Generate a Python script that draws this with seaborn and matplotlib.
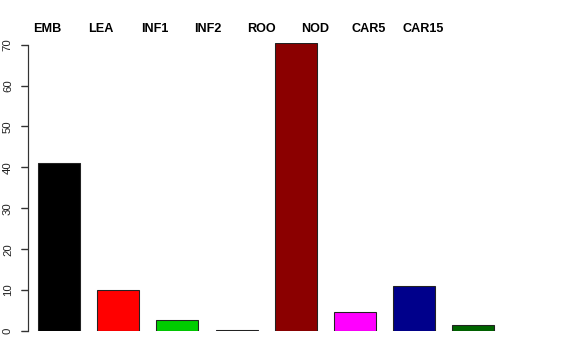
import matplotlib
matplotlib.use("Agg")
import matplotlib.pyplot as plt
import matplotlib.transforms as mtransforms
import seaborn as sns
import pandas as pd

categories = ["EMB", "LEA", "INF1", "INF2", "ROO", "NOD", "CAR5", "CAR15"]
values = [41.0, 10.0, 2.6, 0.3, 70.3, 4.6, 11.1, 1.45]
colors = ["#000000", "#FF0000", "#00CD00", "#0000FF", "#8B0000", "#FF00FF", "#00008B", "#006400"]
yticks = [0, 10, 20, 30, 40, 50, 60, 70]

sns.set_theme(style="ticks")
plt.rcParams["font.family"] = ["Liberation Sans", "DejaVu Sans"]

fig = plt.figure(figsize=(6, 3.75), dpi=96)
ax = fig.add_axes([28 / 576, 29 / 360, 475 / 576, 288.4 / 360])

df = pd.DataFrame({"cat": categories, "val": values})
sns.barplot(data=df, x="cat", y="val", hue="cat", palette=colors, legend=False,
            width=0.71, edgecolor="#222222", linewidth=0.8, saturation=1, ax=ax)

ax.set_xlim(-0.524, 7.5)
ax.set_ylim(0, 70.5)
ax.set_xlabel("")
ax.set_ylabel("")
ax.tick_params(axis="x", bottom=False, labelbottom=False)
ax.set_yticks(yticks)
ax.set_yticklabels([str(t) for t in yticks], rotation=90, va="center", fontsize=8.5)
ax.tick_params(axis="y", length=5.3, width=0.9, color="#333333", pad=6, labelcolor="#222222")
for s in ["top", "right", "bottom"]:
    ax.spines[s].set_visible(False)
ax.spines["left"].set_bounds(0, 70)
ax.spines["left"].set_color("#333333")
ax.spines["left"].set_linewidth(0.9)

# explicit tick marks (axis decoration) at the tick values
tick_trans = mtransforms.blended_transform_factory(ax.transAxes, ax.transData)
ax.hlines(yticks, -7 / 475, 0, transform=tick_trans, clip_on=False,
          color="#333333", linewidth=0.9)

trans = mtransforms.blended_transform_factory(ax.transData, fig.transFigure)
for i, c in enumerate(categories):
    ax.text(-0.203 + 0.907 * i, 1 - 29.5 / 360, c, transform=trans, ha="center", va="center",
            fontsize=9.5, fontweight="bold", color="black", clip_on=False)

fig.savefig("out.png", dpi=96)
